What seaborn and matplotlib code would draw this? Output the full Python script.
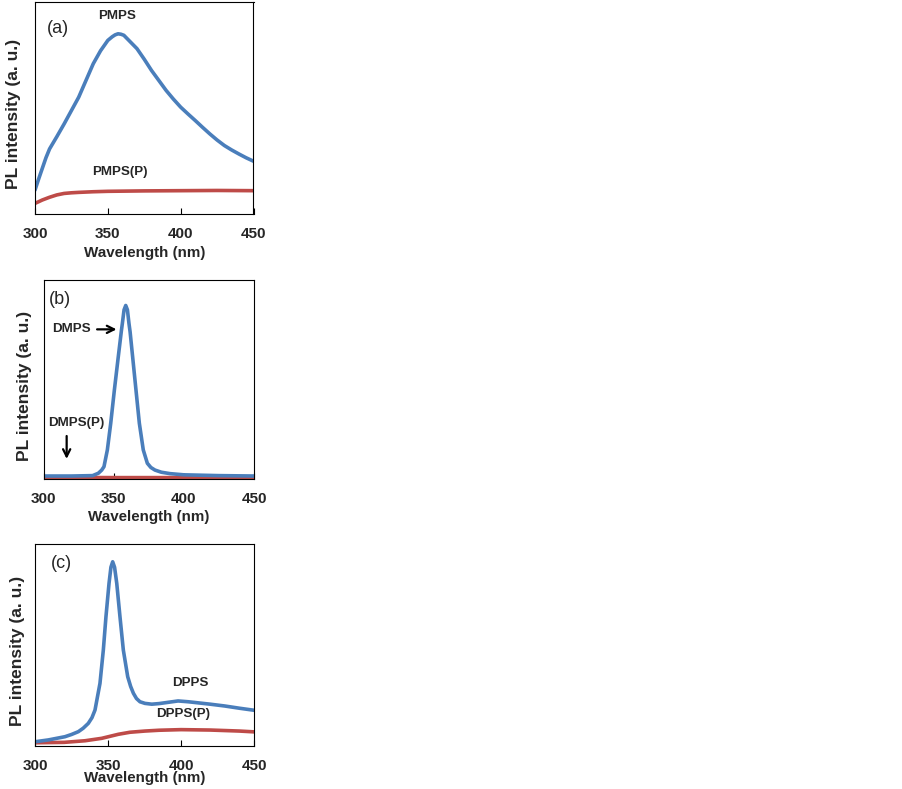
import numpy as np
import pandas as pd
import matplotlib
matplotlib.use("Agg")
import matplotlib.pyplot as plt
import seaborn as sns

sns.set_style("white")
plt.rcParams['font.family'] = ['Liberation Sans', 'DejaVu Sans']

# ---------------- data (arbitrary units) ----------------
# Panel (a)
pmps_x = [300, 302.5, 305, 307.5, 310, 315, 320, 325, 330, 335, 340, 345, 350, 353, 355,
          357, 359, 361, 365, 370, 375, 380, 385, 390, 395, 400, 405, 410, 415, 420,
          425, 430, 435, 440, 445, 450]
pmps_y = [0.113, 0.165, 0.215, 0.265, 0.307, 0.365, 0.425, 0.488, 0.551, 0.630, 0.709,
          0.770, 0.819, 0.836, 0.845, 0.850, 0.848, 0.843, 0.815, 0.780, 0.730, 0.677,
          0.630, 0.583, 0.542, 0.504, 0.472, 0.441, 0.409, 0.378, 0.349, 0.323, 0.302,
          0.283, 0.265, 0.249]
pmpsp_x = [300, 305, 310, 315, 320, 325, 330, 340, 350, 375, 400, 425, 450]
pmpsp_y = [0.050, 0.066, 0.079, 0.090, 0.097, 0.100, 0.102, 0.105, 0.107, 0.109, 0.110, 0.111, 0.110]

# Panel (b)
dmps_x = [300, 320, 335, 339.1, 341.5, 343.1, 345.5, 347.9, 350.5, 353.3, 355.5, 356.2,
          357.4, 358.6, 359.8, 360.9, 361.7, 363.5, 365.9, 368.3, 371.1, 374.0, 376.5,
          379.4, 384, 390.1, 400, 425, 450]
dmps_y = [0.015, 0.015, 0.017, 0.029, 0.045, 0.062, 0.146, 0.280, 0.447, 0.615, 0.745,
          0.782, 0.850, 0.872, 0.850, 0.782, 0.740, 0.615, 0.447, 0.280, 0.146, 0.079,
          0.058, 0.045, 0.034, 0.027, 0.021, 0.017, 0.015]
dmpsp_x = [300, 350, 400, 450]
dmpsp_y = [0.008, 0.007, 0.007, 0.008]

# Panel (c)
dpps_x = [300, 309.1, 320.5, 325, 329.7, 333, 336.5, 339, 341.1, 344.5, 346.8, 348.6,
          350.7, 352.0, 353.2, 354.5, 356.0, 358.2, 360.5, 363.5, 365.5, 367.4, 369.5,
          371.9, 375.3, 380, 385, 390, 395, 398, 405, 410, 420, 430, 440, 450]
dpps_y = [0.021, 0.030, 0.046, 0.057, 0.071, 0.088, 0.112, 0.140, 0.178, 0.310, 0.475,
          0.640, 0.805, 0.885, 0.912, 0.885, 0.805, 0.640, 0.475, 0.343, 0.295, 0.261,
          0.235, 0.219, 0.211, 0.207, 0.210, 0.215, 0.220, 0.223, 0.219, 0.215, 0.207,
          0.198, 0.187, 0.177]
dppsp_x = [300, 320, 334.3, 345.7, 357.1, 365, 375.3, 385, 400, 420, 440, 450]
dppsp_y = [0.016, 0.018, 0.026, 0.038, 0.058, 0.068, 0.074, 0.078, 0.081, 0.079, 0.074, 0.070]

xticks = [300, 350, 400, 450]
BLUE = "#4A7EBB"
RED = "#BE4B48"

fig = plt.figure(figsize=(9.03, 7.89), dpi=100)
W, H = 903, 789

def add_axes(l, t, r, b):
    return fig.add_axes([l / W, 1 - b / H, (r - l) / W, (b - t) / H])

axA = add_axes(35, 2, 253.5, 214)
axB = add_axes(43.5, 280, 254, 479)
axC = add_axes(35, 544, 254, 746)

panels = [
    (axA, (pmpsp_x, pmpsp_y), (pmps_x, pmps_y), -0.100, 4.0),
    (axB, (dmpsp_x, dmpsp_y), (dmps_x, dmps_y), -0.088, 3.5),
    (axC, (dppsp_x, dppsp_y), (dpps_x, dpps_y), -0.078, -1.0),
]

for ax, red, blue, ylx, lpad in panels:
    sns.lineplot(x=red[0], y=red[1], ax=ax, color=RED, linewidth=2.6)
    sns.lineplot(x=blue[0], y=blue[1], ax=ax, color=BLUE, linewidth=2.6)
    ax.set_xlim(300, 450)
    ax.set_ylim(0, 1)
    ax.set_xticks(xticks)
    ax.set_xticklabels([str(t) for t in xticks], fontsize=11, fontweight='bold')
    ax.set_yticks([])
    ax.tick_params(axis='x', direction='in', length=4, width=0.8, pad=9, bottom=True, color='black')
    for s in ax.spines.values():
        s.set_color('black')
        s.set_linewidth(0.8)
        s.set_visible(True)
    ax.set_xlabel("Wavelength (nm)", fontsize=10.9, fontweight='bold', labelpad=lpad)
    ax.set_ylabel("PL intensity (a. u.)", fontsize=12.5, fontweight='bold')
    ax.yaxis.set_label_coords(ylx, 0.47)
    ax.yaxis.label.set_va('center')
    ax.grid(False)

TAG = 13
LAB = 9.6
axA.text(315.8, 0.877, "(a)", fontsize=TAG, ha='center', va='center')
axA.text(356.3, 0.934, "PMPS", fontsize=LAB, fontweight='bold', ha='center', va='center')
axA.text(358.4, 0.198, "PMPS(P)", fontsize=LAB, fontweight='bold', ha='center', va='center')

axB.text(311.8, 0.90, "(b)", fontsize=TAG, ha='center', va='center')
axB.text(320.1, 0.752, "DMPS", fontsize=LAB, fontweight='bold', ha='center', va='center')
axB.annotate("", xy=(354.0, 0.752), xytext=(336.2, 0.752),
             arrowprops=dict(arrowstyle='->', color='black', lw=1.6, mutation_scale=13))
axB.text(323.6, 0.283, "DMPS(P)", fontsize=LAB, fontweight='bold', ha='center', va='center')
axB.annotate("", xy=(316.5, 0.087), xytext=(316.5, 0.230),
             arrowprops=dict(arrowstyle='->', color='black', lw=1.6, mutation_scale=13))

axC.text(318.3, 0.904, "(c)", fontsize=TAG, ha='center', va='center')
axC.text(406.2, 0.313, "DPPS", fontsize=LAB, fontweight='bold', ha='center', va='center')
axC.text(401.6, 0.158, "DPPS(P)", fontsize=LAB, fontweight='bold', ha='center', va='center')

fig.savefig("out.png", dpi=100)
